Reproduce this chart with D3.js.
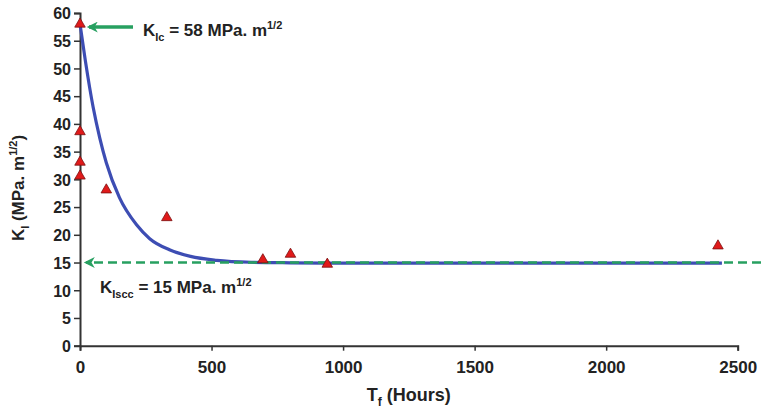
<!DOCTYPE html>
<html>
<head>
<meta charset="utf-8">
<script src="https://cdn.jsdelivr.net/npm/d3@7"></script>
<style>
  body { margin: 0; background: #fff; }
  text { font-family: "Liberation Sans", Arial, sans-serif; font-weight: bold; fill: #222; }
</style>
</head>
<body>
<div id="chart"></div>
<script>
// measured points (hours, MPa.m^1/2)
var hours = [0, 0, 0, 0, 100, 330, 695, 800, 940, 2425];
var kValues = [58, 38.6, 33.1, 30.6, 28.1, 23.1, 15.5, 16.5, 14.7, 18];

// fitted curve
var curveHours = [0, 20, 50, 75, 100, 150, 215, 265, 340, 420, 520, 650, 800, 1000, 1500, 2000, 2440];
var curveK = [58, 51.5, 43, 37.5, 33, 26.7, 21.8, 19.3, 17.3, 16.1, 15.4, 15.05, 14.95, 14.9, 14.9, 14.9, 14.9];

var xTicks = [0, 500, 1000, 1500, 2000, 2500];
var yTicks = [0, 5, 10, 15, 20, 25, 30, 35, 40, 45, 50, 55, 60];

var kIc = 58, kIscc = 15;

var width = 761, height = 409;
var svg = d3.select("#chart").append("svg").attr("width", width).attr("height", height);

var x = d3.scaleLinear().domain([0, 2500]).range([80, 737.7]);
var y = d3.scaleLinear().domain([0, 60]).range([345.7, 13]);

var green = "#27a060";

svg.append("defs").append("marker")
    .attr("id", "head")
    .attr("viewBox", "0 0 10 10")
    .attr("refX", 8).attr("refY", 5)
    .attr("markerWidth", 13).attr("markerHeight", 11)
    .attr("markerUnits", "userSpaceOnUse")
    .attr("orient", "auto")
    .append("path").attr("d", "M10,5 L0,0 L3,5 L0,10 Z").attr("fill", green);

// axes
var xAxis = svg.append("g").attr("transform", "translate(0," + y(0) + ")")
    .call(d3.axisBottom(x).tickValues(xTicks).tickFormat(d3.format("d"))
        .tickSize(5).tickSizeOuter(5).tickPadding(10));
var yAxis = svg.append("g").attr("transform", "translate(" + x(0) + ",0)")
    .call(d3.axisLeft(y).tickValues(yTicks).tickSize(6).tickSizeOuter(6).tickPadding(3));

[xAxis, yAxis].forEach(function (a) {
    a.select(".domain").attr("stroke", "#333").attr("stroke-width", 2);
    a.selectAll(".tick line").attr("stroke", "#333").attr("stroke-width", 1.5);
    a.selectAll(".tick text").attr("fill", "#222").style("font-family", "Liberation Sans, Arial, sans-serif").style("font-weight", "bold");
});
xAxis.selectAll(".tick text").style("font-size", "17px");
yAxis.selectAll(".tick text").style("font-size", "16px").attr("dy", "0.36em");

// fitted curve
var line = d3.line().x(function (d, i) { return x(curveHours[i]); })
    .y(function (d) { return y(d); }).curve(d3.curveMonotoneX);
svg.append("path").datum(curveK)
    .attr("d", line)
    .attr("fill", "none").attr("stroke", "#3d4db3").attr("stroke-width", 3.2);

// K_Iscc dashed line, arrow pointing at the y axis
svg.append("line")
    .attr("x1", width).attr("x2", x(0) + 6)
    .attr("y1", y(kIscc)).attr("y2", y(kIscc))
    .attr("stroke", green).attr("stroke-width", 2.5).attr("stroke-dasharray", "9,5")
    .attr("marker-end", "url(#head)");

// data points
svg.selectAll("path.pt").data(kValues).enter().append("path")
    .attr("class", "pt")
    .attr("d", d3.symbol(d3.symbolTriangle, 48))
    .attr("transform", function (d, i) { return "translate(" + x(hours[i]) + "," + y(d) + ")"; })
    .attr("fill", "#e01a1a").attr("stroke", "#7a1010").attr("stroke-width", 0.8);

// K_Ic arrow
svg.append("line")
    .attr("x1", 133).attr("x2", x(0) + 9)
    .attr("y1", y(kIc) + 3).attr("y2", y(kIc) + 3)
    .attr("stroke", green).attr("stroke-width", 3.5)
    .attr("marker-end", "url(#head)");

function label(tx, ty, sub, val) {
    var t = svg.append("text").attr("x", tx).attr("y", ty).style("font-size", "17px");
    t.append("tspan").text("K");
    t.append("tspan").attr("dy", 5).style("font-size", "11px").text(sub);
    t.append("tspan").attr("dy", -5).text(" = " + val + " MPa. m");
    t.append("tspan").attr("dy", -7).style("font-size", "11px").text("1/2");
}
label(143, 36, "Ic", kIc);
label(100, 293, "Iscc", kIscc);

// axis titles
var xt = svg.append("text").attr("x", x(1250)).attr("y", 401)
    .attr("text-anchor", "middle").style("font-size", "18px");
xt.append("tspan").text("T");
xt.append("tspan").attr("dy", 5).style("font-size", "12px").text("f");
xt.append("tspan").attr("dy", -5).text(" (Hours)");

var yt = svg.append("text").attr("transform", "translate(24,188) rotate(-90)")
    .attr("text-anchor", "middle").style("font-size", "17px");
yt.append("tspan").text("K");
yt.append("tspan").attr("dy", 5).style("font-size", "11px").text("I");
yt.append("tspan").attr("dy", -5).text(" (MPa. m");
yt.append("tspan").attr("dy", -7).style("font-size", "11px").text("1/2");
yt.append("tspan").attr("dy", 7).text(")");
</script>
</body>
</html>
